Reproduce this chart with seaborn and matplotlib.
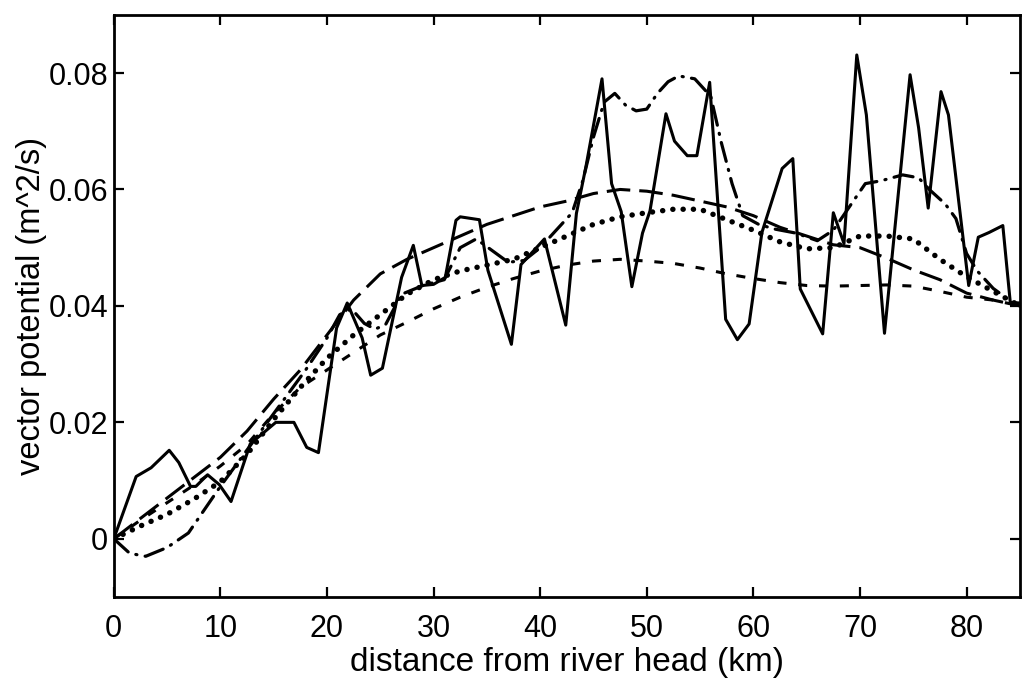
import numpy as np
import pandas as pd
import matplotlib
matplotlib.use("Agg")
import matplotlib.pyplot as plt
import seaborn as sns
from matplotlib.ticker import FixedLocator, FixedFormatter

# ---------------- data ----------------
solid_x = [0, 2.1, 3.5, 5.2, 6.1, 7.2, 7.7, 8.8, 9.9, 11.0, 12.8, 14.1, 15.2, 16.9,
           18.1, 19.2, 20.9, 21.9, 23.3, 24.1, 25.2, 27.0, 28.1, 28.9, 30.0, 31.1,
           32.1, 32.5, 34.3, 35.1, 37.3, 38.2, 40.4, 42.4, 43.4, 44.3, 45.8, 46.7,
           47.6, 48.6, 49.6, 50.3, 51.8, 52.6, 53.8, 54.7, 55.9, 57.4, 58.5, 59.6,
           60.8, 62.7, 63.7, 64.4, 66.5, 67.5, 68.5, 69.7, 70.6, 72.3, 74.7, 75.5,
           76.4, 77.6, 78.3, 80.2, 81.1, 82.1, 83.4, 84.1, 85.0]
solid_y = [0, 0.0107, 0.0122, 0.0152, 0.0131, 0.0090, 0.0090, 0.0110, 0.0093, 0.0064,
           0.0163, 0.0183, 0.0200, 0.0200, 0.0157, 0.0148, 0.0362, 0.0405, 0.0345,
           0.0281, 0.0293, 0.0449, 0.0504, 0.0435, 0.0437, 0.0449, 0.0547, 0.0553,
           0.0548, 0.0461, 0.0334, 0.0471, 0.0515, 0.0367, 0.0559, 0.0640, 0.0790,
           0.0610, 0.0562, 0.0433, 0.0525, 0.0563, 0.0730, 0.0683, 0.0658, 0.0658,
           0.0784, 0.0377, 0.0342, 0.0369, 0.0526, 0.0636, 0.0653, 0.0429, 0.0352,
           0.0560, 0.0507, 0.0831, 0.0728, 0.0353, 0.0797, 0.0706, 0.0568, 0.0768,
           0.0728, 0.0435, 0.0518, 0.0526, 0.0538, 0.0406, 0.0405]

longdash_x = [0, 2.5, 5, 7.5, 10, 12.5, 15, 17.5, 20, 22.5, 25, 27.5, 30, 32.5, 35,
              37.5, 40, 42.5, 45, 47.5, 50, 52.5, 55, 57.5, 60, 62.5, 65, 67.5, 70,
              72.5, 75, 77.5, 80, 82.5, 85]
longdash_y = [0, 0.0035, 0.0070, 0.0105, 0.0140, 0.0185, 0.0240, 0.0290, 0.0350,
              0.0410, 0.0455, 0.0480, 0.0500, 0.0520, 0.0540, 0.0555, 0.0570, 0.0580,
              0.0593, 0.0600, 0.0597, 0.0590, 0.0580, 0.0570, 0.0555, 0.0535, 0.0520,
              0.0505, 0.0500, 0.0482, 0.0462, 0.0445, 0.0422, 0.0410, 0.0400]

dotted_x = [0, 2.5, 5, 7.5, 10, 12.5, 15, 17.5, 20, 22.5, 25, 27.5, 30, 32.5, 35,
            37.5, 40, 42.5, 45, 47.5, 50, 52.5, 55, 57.5, 60, 62.5, 65, 67.5, 70,
            72.5, 75, 77.5, 80, 82.5, 85]
dotted_y = [0, 0.0022, 0.0042, 0.0068, 0.0098, 0.0145, 0.0205, 0.0260, 0.0310,
            0.0350, 0.0385, 0.0420, 0.0445, 0.0460, 0.0470, 0.0480, 0.0500, 0.0520,
            0.0540, 0.0553, 0.0560, 0.0566, 0.0566, 0.0548, 0.0530, 0.0510, 0.0498,
            0.0500, 0.0520, 0.0520, 0.0515, 0.0480, 0.0450, 0.0425, 0.0400]

shortdash_x = [0, 2.5, 5, 7.5, 10, 12.5, 15, 17.5, 20, 22.5, 25, 27.5, 30, 32.5, 35,
               37.5, 40, 42.5, 45, 47.5, 50, 52.5, 55, 57.5, 60, 62.5, 65, 67.5, 70,
               72.5, 75, 77.5, 80, 82.5, 85]
shortdash_y = [0, 0.0032, 0.0062, 0.0092, 0.0125, 0.0162, 0.0215, 0.0260, 0.0290,
               0.0320, 0.0350, 0.0372, 0.0395, 0.0415, 0.0432, 0.0447, 0.0460, 0.0470,
               0.0477, 0.0480, 0.0477, 0.0473, 0.0465, 0.0455, 0.0447, 0.0440, 0.0435,
               0.0434, 0.0435, 0.0436, 0.0434, 0.0425, 0.0415, 0.0410, 0.0400]

dashdot_x = [0, 1.5, 3, 5, 7, 8.5, 10, 12, 14, 16, 18, 20, 21.2, 22.3, 23.5, 24.5,
             25.5, 27, 29, 31, 32.5, 34, 35.5, 37, 38.5, 40, 41.5, 43, 44, 45, 46,
             47, 48, 49, 50, 51, 52, 53, 54.5, 56, 57, 58, 59, 60.5, 62, 64, 66,
             67.5, 69, 70.5, 72, 74, 75.5, 76.5, 78, 79, 80, 81, 82.5, 84, 85]
dashdot_y = [0, -0.0025, -0.0030, -0.0015, 0.0010, 0.0050, 0.0090, 0.0140, 0.0190,
             0.0240, 0.0290, 0.0345, 0.0385, 0.0395, 0.0370, 0.0360, 0.0368, 0.0420,
             0.0435, 0.0445, 0.0500, 0.0515, 0.0495, 0.0475, 0.0478, 0.0500, 0.0530,
             0.0560, 0.0615, 0.0690, 0.0750, 0.0765, 0.0745, 0.0735, 0.0738, 0.0765,
             0.0785, 0.0795, 0.0790, 0.0760, 0.0680, 0.0610, 0.0555, 0.0540, 0.0532,
             0.0525, 0.0512, 0.0530, 0.0570, 0.0610, 0.0615, 0.0625, 0.0620, 0.0600,
             0.0575, 0.0550, 0.0490, 0.0460, 0.0430, 0.0410, 0.0400]

x_ticks = [0, 10, 20, 30, 40, 50, 60, 70, 80]
y_ticks = [0, 0.02, 0.04, 0.06, 0.08]
y_tick_labels = ["0", "0.02", "0.04", "0.06", "0.08"]

x_label = "distance from river head (km)"
y_label = "vector potential (m^2/s)"

# ---------------- style ----------------
sns.set_theme(style="white")
plt.rcParams["font.family"] = ["Liberation Sans", "DejaVu Sans"]
plt.rcParams["lines.scale_dashes"] = False

fig = plt.figure(figsize=(10.25, 6.81), dpi=100)
ax = fig.add_axes([0.111, 0.1233, 0.884, 0.855])

series = [
    (solid_x, solid_y, "-", 2.2, "butt"),
    (longdash_x, longdash_y, (0, (17, 6.5)), 2.2, "butt"),
    (dotted_x, dotted_y, (0, (0.1, 7.3)), 3.9, "round"),
    (shortdash_x, shortdash_y, (0, (6.5, 8.5)), 2.2, "butt"),
    (dashdot_x, dashdot_y, (0, (14, 6, 0.8, 6)), 2.3, "round"),
]
for xs, ys, ls, lw, cap in series:
    df = pd.DataFrame({"x": xs, "y": ys})
    sns.lineplot(data=df, x="x", y="y", ax=ax, color="black", linestyle=ls,
                 linewidth=lw, sort=False, estimator=None,
                 dash_capstyle=cap)

ax.set_xlim(0, 85)
ax.set_ylim(-0.01, 0.09)
ax.xaxis.set_major_locator(FixedLocator(x_ticks))
ax.yaxis.set_major_locator(FixedLocator(y_ticks))
ax.yaxis.set_major_formatter(FixedFormatter(y_tick_labels))
ax.set_xlabel(x_label, fontsize=24, color="black")
ax.set_ylabel(y_label, fontsize=23.5, color="black")
ax.xaxis.set_label_coords(0.5, -0.086)
ax.yaxis.set_label_coords(-0.074, 0.5)

ax.tick_params(axis="both", which="major", direction="in", length=7, width=1.6,
               labelsize=22, colors="black", top=True, right=True,
               bottom=True, left=True)
ax.tick_params(axis="x", pad=12)
ax.tick_params(axis="y", pad=4)
for sp in ax.spines.values():
    sp.set_visible(True)
    sp.set_color("black")
    sp.set_linewidth(2.0)
ax.grid(False)
ax.set_facecolor("white")
fig.patch.set_facecolor("white")

fig.savefig("out.png", dpi=100, facecolor="white")
